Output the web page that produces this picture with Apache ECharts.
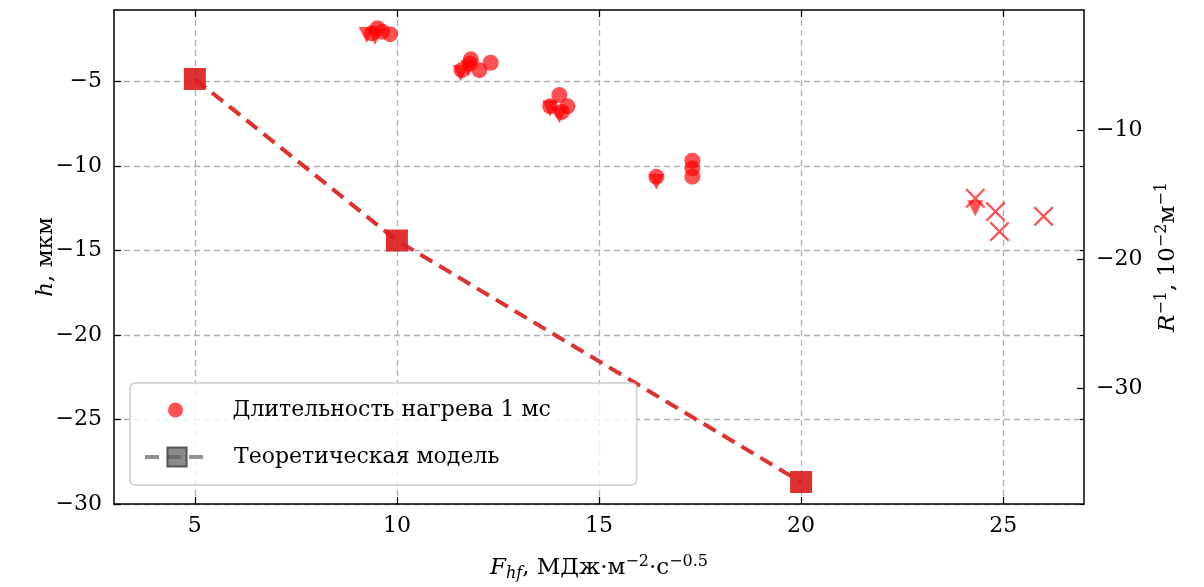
<!DOCTYPE html>
<html>
<head>
<meta charset="utf-8">
<script src="https://cdn.jsdelivr.net/npm/echarts@6/dist/echarts.min.js"></script>
<style>
  html, body { margin: 0; padding: 0; background: #fff; }
  #chart { width: 1204px; height: 587px; }
</style>
</head>
<body>
<div id="chart"></div>
<script>
  // measured points, [F_hf, h]
  var circlePoints = [
    [9.52, -1.85], [9.38, -2.15], [9.63, -2.05], [9.83, -2.2],
    [11.83, -3.69], [11.81, -3.93], [12.04, -4.33], [12.32, -3.89], [11.6, -4.33],
    [14.02, -5.8], [13.79, -6.47], [14.22, -6.47], [14.08, -6.8],
    [16.42, -10.64], [17.31, -9.69], [17.31, -10.14], [17.31, -10.63]
  ];
  var trianglePoints = [
    [9.25, -2.25], [9.46, -2.35], [11.58, -4.51], [11.77, -4.22],
    [13.79, -6.6], [14.02, -7.0], [16.42, -10.93], [24.31, -12.5]
  ];
  var crossPoints = [
    [24.31, -11.91], [24.81, -12.7], [24.91, -13.88], [26.0, -12.98]
  ];
  var modelPoints = [[5, -4.85], [10, -14.41], [20, -28.7]];

  var xTicks = [5, 10, 15, 20, 25];
  var yTicks = [-30, -25, -20, -15, -10, -5];
  var rTicks = [-30, -20, -10];

  var nameMeas = 'Длительность нагрева 1 мс';
  var nameModel = 'Теоретическая модель';

  var FONT = 'DejaVu Serif';
  var crossPath = 'path://M0,0.8 L0.8,0 L5,4.2 L9.2,0 L10,0.8 L5.8,5 L10,9.2 L9.2,10 L5,5.8 L0.8,10 L0,9.2 L4.2,5 Z';

  var chart = echarts.init(document.getElementById('chart'));

  var tickStyle = { show: true, inside: true, length: 7, lineStyle: { color: '#000', width: 1.2 } };
  var gridLine = { show: true, lineStyle: { color: '#b0b0b0', width: 1.3, type: [6, 4] } };
  var labelFont = { color: '#000', fontFamily: FONT, fontSize: 22 };
  var minus = function (v) { return String(v).replace('-', '−'); };

  var option = {
    backgroundColor: '#fff',
    animation: false,
    grid: { left: 114, right: 120, top: 10, bottom: 83 },
    //region legends
    legend: [
      {
        data: [{ name: nameMeas, icon: 'circle' }],
        left: 130, top: 383,
        orient: 'vertical',
        padding: [16, 86, 64, 38],
        itemWidth: 104, itemHeight: 15,
        backgroundColor: 'rgba(255,255,255,0.8)',
        borderColor: '#cccccc', borderWidth: 1.5, borderRadius: 5,
        textStyle: { color: '#000', fontFamily: FONT, fontSize: 22 },
        selectedMode: false
      },
      {
        data: [nameModel],
        left: 130, top: 446, z: 6,
        orient: 'vertical',
        padding: [0, 12, 0, 13],
        itemWidth: 64, itemHeight: 24,
        lineStyle: { color: 'rgba(128,128,128,0.85)', width: 4, type: [14, 8] },
        textStyle: { color: '#000', fontFamily: FONT, fontSize: 22, padding: [0, 0, 0, 20] },
        selectedMode: false
      }
    ],
    //endregion
    //region axes
    xAxis: [
      {
        type: 'value', min: 3, max: 27, position: 'bottom',
        name: '{i|F}{sub|hf}{n|, МДж·м}{sup|−2}{n|·с}{sup|−0.5}',
        nameLocation: 'middle', nameGap: 50, nameMoveOverlap: false,
        nameTextStyle: {
          rich: {
            i: { fontFamily: FONT, fontStyle: 'italic', fontSize: 23, color: '#000' },
            n: { fontFamily: FONT, fontSize: 23, color: '#000' },
            sub: { fontFamily: FONT, fontStyle: 'italic', fontSize: 16, color: '#000', verticalAlign: 'bottom', padding: [10, 0, 0, 0] },
            sup: { fontFamily: FONT, fontSize: 16, color: '#000', verticalAlign: 'top', padding: [0, 0, 12, 0] }
          }
        },
        axisLine: { show: true, onZero: false, lineStyle: { color: '#000', width: 1.5 } },
        axisTick: Object.assign({ customValues: xTicks }, tickStyle),
        axisLabel: Object.assign({ customValues: xTicks, margin: 11, formatter: minus }, labelFont),
        splitLine: gridLine
      },
      {
        type: 'value', min: 3, max: 27, position: 'top',
        axisLine: { show: true, onZero: false, lineStyle: { color: '#000', width: 1.5 } },
        axisTick: Object.assign({ customValues: xTicks }, tickStyle),
        axisLabel: { show: false },
        splitLine: { show: false }
      }
    ],
    yAxis: [
      {
        type: 'value', min: -30, max: -0.77, position: 'left',
        name: '{i|h}{n|, мкм}',
        nameLocation: 'middle', nameGap: 56, nameRotate: 90, nameMoveOverlap: false,
        nameTextStyle: {
          rich: {
            i: { fontFamily: FONT, fontStyle: 'italic', fontSize: 23, color: '#000' },
            n: { fontFamily: FONT, fontSize: 23, color: '#000' }
          }
        },
        axisLine: { show: true, onZero: false, lineStyle: { color: '#000', width: 1.5 } },
        axisTick: Object.assign({ customValues: yTicks }, tickStyle),
        axisLabel: Object.assign({ customValues: yTicks, margin: 12, formatter: minus }, labelFont),
        splitLine: gridLine
      },
      {
        type: 'value', min: -39, max: -0.7, position: 'right',
        name: '{i|R}{sup|−1}{n|, 10}{sup|−2}{n|м}{sup|−1}',
        nameLocation: 'middle', nameGap: 70, nameRotate: 90, nameMoveOverlap: false,
        nameTextStyle: {
          rich: {
            i: { fontFamily: FONT, fontStyle: 'italic', fontSize: 23, color: '#000' },
            n: { fontFamily: FONT, fontSize: 23, color: '#000' },
            sup: { fontFamily: FONT, fontSize: 16, color: '#000', verticalAlign: 'top', padding: [0, 0, 12, 0] }
          }
        },
        axisLine: { show: true, onZero: false, lineStyle: { color: '#000', width: 1.5 } },
        axisTick: Object.assign({ customValues: rTicks }, tickStyle),
        axisLabel: Object.assign({ customValues: rTicks, margin: 12, formatter: minus }, labelFont),
        splitLine: { show: false }
      },
      {
        type: 'value', min: -30, max: -0.77, position: 'right',
        axisLine: { show: false },
        axisTick: Object.assign({ customValues: yTicks }, tickStyle, { length: 4 }),
        axisLabel: { show: false },
        splitLine: { show: false }
      }
    ],
    //endregion
    //region series
    series: [
      {
        name: nameModel + ' (линия)',
        type: 'line',
        data: modelPoints,
        symbol: 'rect', symbolSize: 22,
        itemStyle: { color: 'rgba(218,28,28,0.9)' },
        lineStyle: { color: 'rgba(218,28,28,0.9)', width: 4, type: [14, 8] },
        z: 3
      },
      {
        name: nameModel,
        type: 'line',
        data: [],
        symbol: 'rect', symbolSize: 20,
        itemStyle: { color: 'rgba(90,90,90,0.7)', borderColor: 'rgba(60,60,60,0.8)', borderWidth: 1.5 },
        lineStyle: { color: 'rgba(128,128,128,0.85)', width: 4, type: [14, 8] }
      },
      {
        name: nameMeas,
        type: 'scatter',
        data: circlePoints,
        symbol: 'circle', symbolSize: 16,
        itemStyle: { color: 'rgba(255,0,0,0.85)' },
        z: 4
      },
      {
        name: 'треугольники',
        type: 'scatter',
        data: trianglePoints,
        symbol: 'triangle', symbolSize: 16, symbolRotate: 180,
        itemStyle: { color: 'rgba(255,0,0,0.85)' },
        z: 4
      },
      {
        name: 'крестики',
        type: 'scatter',
        data: crossPoints,
        symbol: crossPath, symbolSize: 20,
        itemStyle: { color: 'rgba(255,0,0,0.85)' },
        z: 4
      }
    ]
    //endregion
  };
  chart.setOption(option);
</script>
</body>
</html>
